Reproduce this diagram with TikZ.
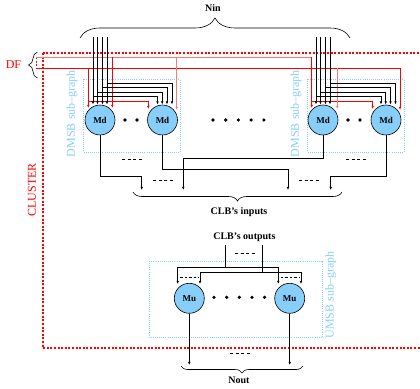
\documentclass[tikz,border=0pt]{standalone}
\usepackage{fontspec}
\setmainfont{Liberation Serif}
\usetikzlibrary{calc,arrows.meta,decorations.pathreplacing}
\definecolor{skyblue}{RGB}{135,206,250}
\definecolor{dfpink}{RGB}{255,120,120}

\begin{document}
\begin{tikzpicture}[x=1pt, y=-1pt,
    cell/.style={circle, draw, line width=0.6pt, fill=skyblue, minimum size=30pt, inner sep=0pt, font=\small\bfseries},
    bus/.style={line width=0.6pt},
    wire/.style={bus, -{Latex[length=3.2pt,width=2.6pt]}},
    subbox/.style={draw=skyblue, line width=0.9pt, dash pattern=on 1pt off 1.1pt},
    sublabel/.style={rotate=90, text=skyblue, font=\large},
    etc/.style={line width=0.7pt, dash pattern=on 3pt off 2.6pt},
    curly/.style={decorate, decoration={brace, amplitude=#1}, line width=0.6pt},
    lbl/.style={font=\bfseries},
    clusterframe/.style={draw=red, line width=1.3pt, dash pattern=on 2pt off 1.6pt}
]
\useasboundingbox (0,0) rectangle (420,388);

% Cluster frame
\draw[clusterframe] (43,53) rectangle (440,348);
\node[red, font=\large, rotate=90] (cluster) at (32,190) {CLUSTER};

% Sub-graph frames
\draw[subbox] (83,79) rectangle (180,152);
\draw[subbox] (307,79) rectangle (404,152);
\draw[subbox] (149.3,261) rectangle (322.3,337.3);
\node[sublabel] (dmsbA) at (72,113.5) {DMSB sub--graph};
\node[sublabel] (dmsbB) at (296,113.5) {DMSB sub--graph};
\node[sublabel] (umsb) at (330.7,295) {UMSB sub--graph};

% Cells
\node[cell] (Md1) at (100,120) {Md};
\node[cell] (Md2) at (162.5,120) {Md};
\node[cell] (Md3) at (323,120) {Md};
\node[cell] (Md4) at (386,120) {Md};
\node[cell] (Mu1) at (189.3,298.3) {Mu};
\node[cell] (Mu2) at (289.7,298.3) {Mu};

% Dots between cells
\foreach \x in {125,137,213,225.7,238.4,251.1,263.8,348,360}
    \fill (\x,120) circle (1.8);
\foreach \x in {214,226.7,239.3,252,264.6}
    \fill (\x,297.3) circle (1.8);

% Nin
\draw[curly=20pt] (80,38) -- (350,38);
\node[lbl] (nin) at (213,8) {Nin};

% DF lines
\coordinate (dfA) at (36,57);
\coordinate (dfB) at (36,68);
\draw[curly=9pt] (37.5,78) -- (37.5,52);
\node[red, font=\large] (df) at (13.5,65) {DF};
\draw[red, bus, dash pattern=on 2pt off 1.5pt] (dfA) -- (dfB);

\coordinate (d1l) at ($(Md1)+(-11.7,-12)$);
\coordinate (d1r) at ($(Md1)+(12.3,-12)$);
\coordinate (d2l) at ($(Md2)+(-14.2,-11)$);
\coordinate (d2r) at ($(Md2)+(14.2,-10)$);
\coordinate (d3l) at ($(Md3)+(-11.3,-12)$);
\coordinate (d3r) at ($(Md3)+(14.3,-11)$);
\coordinate (d4l) at ($(Md4)+(-13.3,-11)$);
\coordinate (d4r) at ($(Md4)+(14,-10)$);

\draw[dfpink, line width=0.9pt] (dfA) -- (dfA -| d3l);
\draw[red, line width=0.9pt] (dfB) -- (dfB -| d4r);
\draw[wire, red] (dfB -| d1l) -- (d1l);
\draw[wire, red] (d1l |- 0,101) -| (d2l);
\draw[wire, red] (dfA -| d1r) -- (d1r);
\draw[wire, dfpink] (dfA -| d2r) -- (d2r);
\draw[wire, red] (dfA -| d3l) -- (d3l);
\draw[wire, red] (d3l |- 0,101) -| (d4l);
\draw[wire, dfpink] (dfB -| d3r) -- (d3r);
\draw[wire, red] (dfB -| d4r) -- (d4r);

% Nin fan-in to each DMSB pair
\foreach \a/\b in {Md1/Md2, Md3/Md4}{
    \foreach \dxa/\dxb/\hy in {-7/-5/-23.3, -2.5/-0.3/-27.7, 2.5/4.5/-32.3, 7/9.5/-36.7}{
        \draw[wire] ($(\a)+(\dxa,-83)$) -- ($(\a)+(\dxa,-15.5)$);
        \draw[wire] ($(\a)+(\dxa,\hy)$) -| ($(\b)+(\dxb,-15.5)$);
    }
}

% CLB's inputs
\coordinate (in1) at (141.7,190);
\coordinate (in2) at (183.3,190);
\coordinate (in3) at (288,190);
\coordinate (in4) at (330.7,190);
\draw[wire] (Md1.south) -- (Md1.south |- 0,176.7) -| (in1);
\draw[wire] (Md2.south) -- (Md2.south |- 0,169.3) -| (in3);
\draw[wire] (Md3.south) -- (Md3.south |- 0,158.3) -| (in2);
\draw[wire] (Md4.south) -- (Md4.south |- 0,176) -| (in4);
\draw[curly=9pt] (342,192) -- (133,192);
\node[lbl] (clbin) at (239,212.5) {CLB's inputs};

% CLB's outputs
\node[lbl] (clbout) at (244.4,237) {CLB's outputs};
\coordinate (out1) at (225,245);
\coordinate (out2) at (262.7,245);
\coordinate (u1l) at ($(Mu1)+(-11.6,-14.3)$);
\coordinate (u1r) at ($(Mu1)+(10.7,-14.3)$);
\coordinate (u2l) at ($(Mu2)+(-11.4,-14.3)$);
\coordinate (u2r) at ($(Mu2)+(11.3,-14.3)$);
\draw[bus] (out1) -- (out1 |- 0,267.7);
\draw[wire] (out1 |- 0,267.7) -| (u1l);
\draw[wire] (out1 |- 0,267.7) -| (u2l);
\draw[bus] (out2) -- (out2 |- 0,272.7);
\draw[wire] (out2 |- 0,272.7) -| (u1r);
\draw[wire] (out2 |- 0,272.7) -| (u2r);

% Nout
\coordinate (nout) at (0,365);
\draw[wire] (Mu1.south) -- (Mu1.south |- nout);
\draw[wire] (Mu2.south) -- (Mu2.south |- nout);
\draw[curly=7pt] (303,366) -- (181,366);
\node[lbl] (noutlbl) at (239,380.5) {Nout};

% Elided wires
\foreach \x/\y in {122/159, 346/159, 153/180.7, 299/180.7, 235/253.3, 230/353.3}
    \draw[etc] (\x,\y) -- ++(20,0);
\draw[bus, dash pattern=on 2.5pt off 2pt] ($(u1l)+(2.5,-7)$) -- ($(u1r)+(-1.5,-7)$);
\draw[bus, dash pattern=on 2.5pt off 2pt] ($(u2l)+(2.5,-7)$) -- ($(u2r)+(-1.5,-7)$);
\end{tikzpicture}
\end{document}
